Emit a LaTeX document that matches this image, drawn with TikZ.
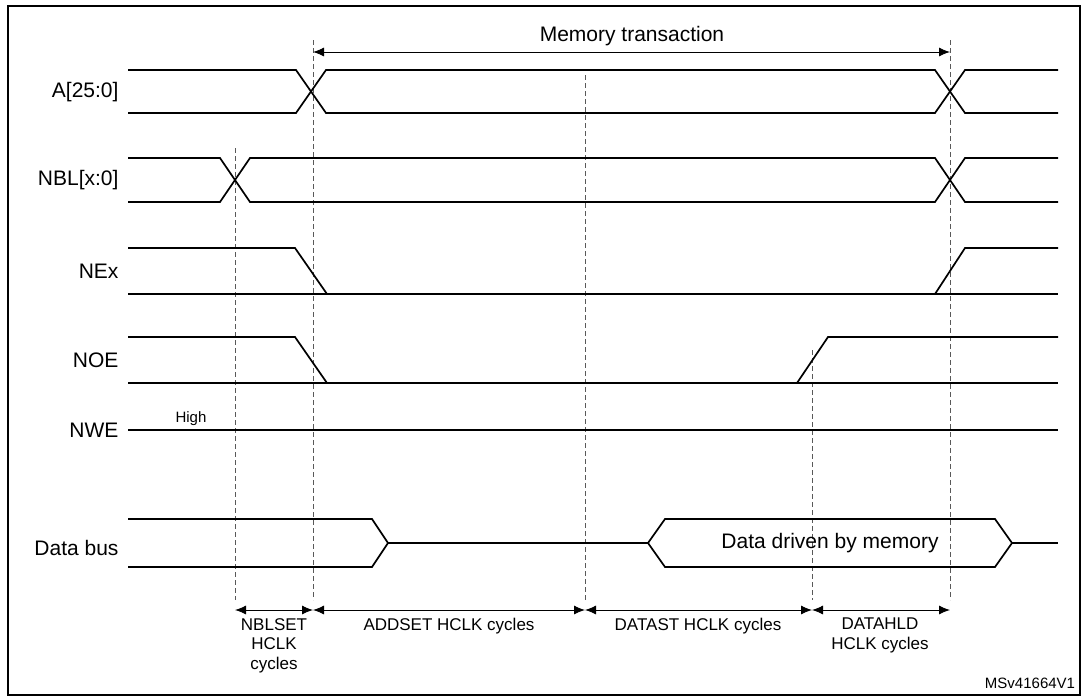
\documentclass[tikz,border=0pt]{standalone}
\usepackage{fontspec}
\setmainfont{Liberation Sans}
\begin{document}
\begin{tikzpicture}[x=1pt,y=-1pt,
  sig/.style={line width=1.7pt},
  guide/.style={dashed,gray!70!black,line width=0.9pt,dash pattern=on 5pt off 3pt},
  dim/.style={{Latex[length=11pt,width=9pt]}-{Latex[length=11pt,width=9pt]},line width=0.9pt},
  lbl/.style={font=\fontsize{21}{24}\selectfont,anchor=east},
  small/.style={font=\fontsize{17}{19.5}\selectfont,align=center}]
\usetikzlibrary{arrows.meta}
\useasboundingbox (0,0) rectangle (1085,696);
\draw[line width=1.7pt] (8,6) rectangle (1080,695);
% guides
\coordinate (g1t) at (235,148); \coordinate (g1b) at (235,600);
\coordinate (g2t) at (313,40); \coordinate (g2b) at (313,600);
\coordinate (g3t) at (585,75); \coordinate (g3b) at (585,600);
\coordinate (g4t) at (812,350); \coordinate (g4b) at (812,600);
\coordinate (g5t) at (950,40); \coordinate (g5b) at (950,600);
\foreach \i in {1,...,5} \draw[guide] (g\i t) -- (g\i b);
% memory transaction
\coordinate (m1) at (313,52); \coordinate (m2) at (950,52);
\draw[dim] (m1) -- (m2);
\node[font=\fontsize{21}{24}\selectfont] (mt) at (632,36) {Memory transaction};
% labels
\node[lbl] (la) at (122,92) {A[25:0]};
\node[lbl] (lb) at (122,180) {NBL[x:0]};
\node[lbl] (lc) at (122,271) {NEx};
\node[lbl] (ld) at (122,360) {NOE};
\node[lbl] (le) at (122,430) {NWE};
\node[lbl] (lf) at (122,548) {Data bus};
\node[font=\fontsize{15}{17}\selectfont] (hi) at (191,419) {High};
% A
\draw[sig] (128,70) -- (296,70) -- (326,113) -- (935,113) -- (965,70) -- (1058,70);
\draw[sig] (128,113) -- (296,113) -- (326,70) -- (935,70) -- (965,113) -- (1058,113);
% NBL
\draw[sig] (128,158) -- (220,158) -- (250,202) -- (935,202) -- (965,158) -- (1058,158);
\draw[sig] (128,202) -- (220,202) -- (250,158) -- (935,158) -- (965,202) -- (1058,202);
% NEx
\draw[sig] (128,248) -- (295,248) -- (327,294);
\draw[sig] (128,294) -- (1058,294);
\draw[sig] (935,294) -- (965,248) -- (1058,248);
% NOE
\draw[sig] (128,337) -- (295,337) -- (327,383);
\draw[sig] (128,383) -- (1058,383);
\draw[sig] (797,383) -- (828,337) -- (1058,337);
% NWE
\draw[sig] (128,430) -- (1058,430);
% Data bus
\draw[sig] (128,519) -- (372,519) -- (388,543) -- (372,567) -- (128,567);
\draw[sig] (388,543) -- (648,543) -- (665,519) -- (995,519) -- (1012,543) -- (995,567) -- (665,567) -- (648,543);
\draw[sig] (1012,543) -- (1058,543);
\node[font=\fontsize{21}{24}\selectfont] (dd) at (830,543) {Data driven by memory};
% dims
\coordinate (d1) at (235,610); \coordinate (d2) at (313,610);
\coordinate (d3) at (585,610); \coordinate (d4) at (812,610);
\coordinate (d5) at (950,610);
\draw[dim] (d1) -- (d2); \draw[dim] (d2) -- (d3);
\draw[dim] (d3) -- (d4); \draw[dim] (d4) -- (d5);
\node[small,anchor=north,inner sep=1pt] (t1) at (274,617) {NBLSET\\HCLK\\cycles};
\node[small,anchor=north,inner sep=1pt] (t2) at (449,617) {ADDSET HCLK cycles};
\node[small,anchor=north,inner sep=1pt] (t3) at (698,617) {DATAST HCLK cycles};
\node[small,anchor=north,inner sep=1pt] (t4) at (880,617) {DATAHLD\\HCLK cycles};
\node[font=\fontsize{15}{17}\selectfont] (ms) at (1030,683) {MSv41664V1};
\end{tikzpicture}
\end{document}
